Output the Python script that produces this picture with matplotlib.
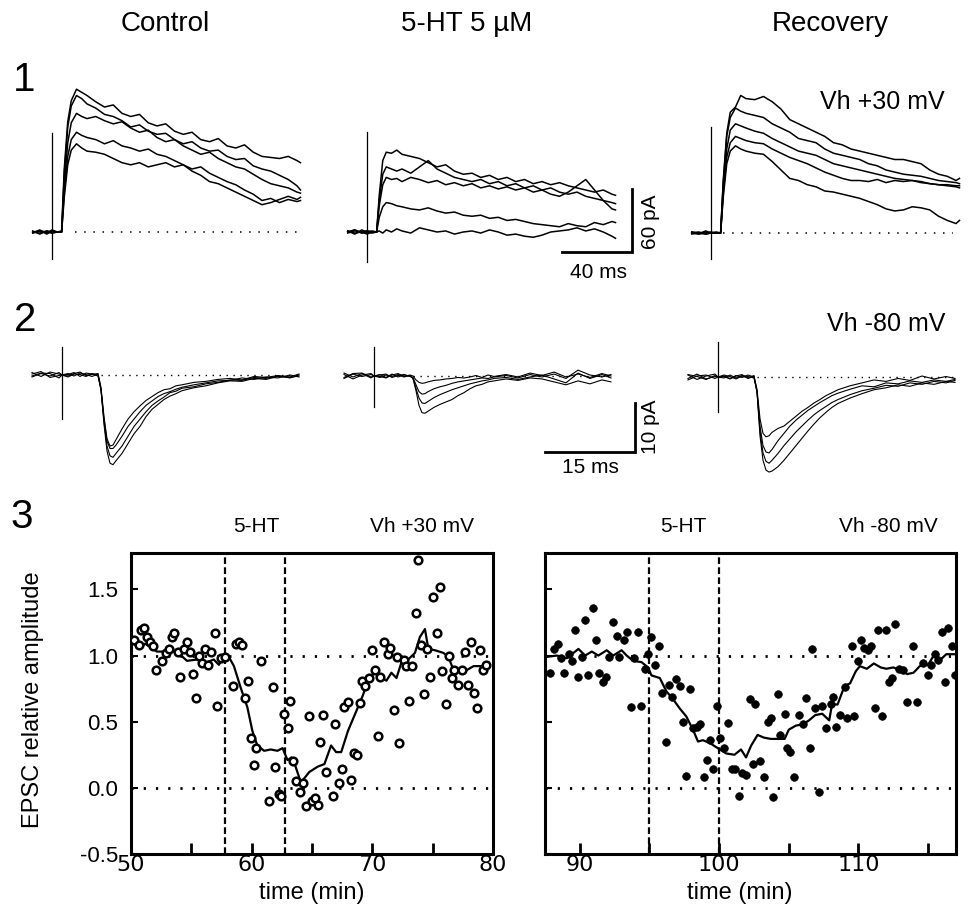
import matplotlib
matplotlib.use("Agg")
import matplotlib.pyplot as plt

plt.rcParams['font.family'] = ['Liberation Sans', 'DejaVu Sans']

# ---------------- data: row 1 (Vh +30 mV), time in ms, current in pA ----------------
T_ROW1 = [-11, -7, -3, 0, 3, 5.5, 7, 9, 11, 14, 17, 20, 25, 30, 35, 40, 45, 50, 55, 60,
          65, 70, 75, 80, 85, 90, 95, 100, 105, 110, 115, 120, 125, 130, 135, 140, 142]

CONTROL_P30 = [
    [-1, 2, -2, 1, 0, 1, 60, 105, 125, 136, 133, 130, 124, 119, 121, 113, 110, 112, 104, 101,
     103, 96, 93, 95, 88, 86, 89, 82, 80, 83, 76, 72, 71, 70, 72, 68, 66],
    [1, -2, 1, -1, 0, 0, 55, 100, 120, 130, 127, 122, 118, 112, 110, 106, 100, 102, 96, 93,
     94, 88, 84, 86, 80, 77, 78, 72, 69, 70, 63, 60, 58, 54, 50, 44, 40],
    [0, 1, -1, 2, 0, 0, 45, 85, 104, 113, 110, 108, 110, 106, 103, 105, 99, 95, 97, 90,
     86, 88, 82, 78, 74, 76, 70, 66, 62, 60, 55, 50, 46, 44, 42, 38, 37],
    [-1, 1, 0, -1, 0, 0, 38, 72, 88, 95, 92, 90, 88, 84, 87, 82, 80, 77, 79, 74,
     72, 68, 64, 60, 62, 56, 52, 48, 45, 40, 36, 30, 32, 28, 31, 29, 30],
    [0, -1, 1, 0, 0, 0, 33, 64, 78, 84, 80, 77, 76, 74, 70, 66, 64, 66, 62, 64,
     66, 62, 64, 58, 54, 48, 46, 42, 38, 34, 30, 26, 28, 31, 34, 31, 33],
]
SEROTONIN_P30 = [
    [1, -2, 2, 0, -1, 0, 35, 68, 76, 75, 78, 74, 72, 70, 66, 62, 64, 58, 55, 56,
     52, 54, 50, 52, 48, 50, 46, 48, 45, 47, 44, 42, 40, 38, 40, 36, 35],
    [-1, 1, 0, 1, 0, 0, 30, 55, 62, 60, 58, 60, 56, 62, 68, 60, 56, 52, 50, 48,
     50, 46, 48, 44, 46, 42, 44, 40, 42, 38, 36, 38, 34, 32, 30, 28, 27],
    [0, 2, -1, 0, 1, 0, 25, 45, 52, 50, 51, 48, 52, 50, 47, 49, 45, 47, 44, 46,
     42, 44, 41, 43, 40, 42, 38, 40, 36, 34, 38, 44, 50, 40, 30, 22, 21],
    [1, -1, 0, -2, 0, 0, 14, 24, 28, 27, 25, 24, 22, 21, 23, 20, 18, 19, 16, 15,
     16, 13, 14, 11, 12, 10, 8, 7, 6, 5, 8, 6, 5, 9, 7, 10, 9],
    [0, 2, -1, 1, 0, 0, 1, -1, 2, 0, 3, 1, -1, 4, 2, 0, 1, -2, 0, 1,
     -1, 2, 0, -3, -2, -4, -5, -3, 0, 1, 2, 4, 1, 3, 0, -4, -6],
]
RECOVERY_P30 = [
    [0, -1, 2, 0, 1, 0, 50, 95, 115, 120, 131, 128, 127, 130, 125, 118, 108, 104, 100, 96,
     92, 86, 84, 80, 78, 76, 74, 72, 70, 70, 68, 66, 60, 56, 54, 50, 52],
    [1, -1, 0, 1, 0, 0, 48, 92, 110, 119, 116, 114, 112, 110, 104, 100, 96, 90, 88, 86,
     80, 76, 74, 72, 70, 66, 64, 60, 58, 56, 55, 54, 52, 50, 49, 48, 47],
    [0, 1, -1, 0, 0, 0, 42, 80, 98, 104, 102, 100, 97, 95, 90, 86, 82, 78, 76, 74,
     70, 66, 64, 62, 60, 58, 56, 54, 52, 51, 50, 49, 47, 46, 45, 44, 43],
    [-1, 0, 1, 0, 0, 0, 38, 72, 86, 92, 90, 88, 86, 85, 80, 76, 72, 69, 66, 62,
     58, 55, 52, 50, 50, 49, 51, 48, 50, 49, 50, 48, 47, 46, 46, 45, 45],
    [1, 0, -1, 0, 0, 0, 34, 66, 78, 83, 80, 78, 76, 75, 68, 60, 52, 50, 46, 44,
     40, 39, 37, 35, 33, 30, 27, 23, 21, 22, 25, 24, 22, 16, 12, 9, 12],
]
ARTIFACT_P30 = [(-26, 94), (-29, 95), (-25, 101)]   # (bottom, top) pA per panel

# ---------------- data: row 2 (Vh -80 mV) ----------------
T_ROW2 = [-5, -3.5, -2, -0.5, 0, 1, 2, 3, 4, 5, 6, 6.5, 7, 7.5, 8, 8.5, 9, 10, 11, 12,
          13, 14, 15, 16, 17, 18, 19, 20, 22, 24, 26, 28, 30, 32, 34, 36, 38, 39.5]

CONTROL_M80 = [
    [0.5, -0.3, 0.6, 0.2, 0, -0.4, 0.2, 0.1, -0.3, 0.3, 0,
     -3, -10, -15.5, -18, -18.3, -17.5, -16, -14, -12, -10.5, -8.5, -7, -6, -5, -4.3, -3.8,
     -3.2, -2.6, -2.2, -1.6, -1.2, -1.3, -0.7, -0.9, -0.3, -0.5, -0.2],
    [-0.4, 0.3, -0.2, 0.5, 0, 0.3, -0.2, 0.4, 0.1, -0.3, 0.2,
     -3, -9.5, -14.5, -16.5, -16.8, -16, -14.5, -12.5, -10.5, -9, -7.5, -6.2, -5.3, -4.5, -3.6, -3.3,
     -2.7, -2.4, -1.8, -1.5, -1.0, -1.1, -0.5, -0.7, -0.2, -0.6, 0],
    [0.2, 0.7, -0.5, -0.1, 0, 0.1, 0.5, -0.3, 0.4, 0.2, -0.2,
     -3, -9, -13.5, -15, -15, -14.3, -12.5, -10.5, -9, -7.5, -6.2, -5.3, -4.4, -3.8, -3.4, -2.9,
     -2.5, -2.0, -1.6, -1.2, -1.1, -0.6, -0.9, -0.4, -0.6, 0, -0.4],
    [-0.2, 0.4, 0.3, -0.6, 0, -0.2, 0.3, 0.6, -0.1, 0.1, 0.3,
     -2.5, -8.5, -13, -14.5, -14.3, -13.2, -11, -9, -7.5, -6.3, -5.2, -4.4, -3.6, -3.0, -2.8, -2.2,
     -2.0, -1.5, -1.3, -0.9, -0.7, -1.0, -0.3, -0.5, -0.1, -0.4, 0.2],
]
SEROTONIN_M80 = [
    [0.6, -0.2, 0.5, -0.4, 0, 0.3, -0.3, 0.4, -0.2, 0.2, 0,
     -0.5, -3, -6, -7.5, -7.6, -7.2, -6.4, -5.8, -5.3, -4.8, -4.0, -3.4, -2.6, -2.0, -1.7, -1.2,
     -1.0, -0.6, -0.9, -0.4, -0.6, -1.2, -1.8, -1.0, -1.6, -0.8, -1.2],
    [-0.5, 0.4, -0.1, 0.3, 0, -0.3, 0.2, -0.1, 0.3, -0.2, 0.1,
     -0.5, -2.5, -4.5, -5.5, -5.6, -5.2, -4.4, -3.8, -3.3, -2.8, -2.4, -2.0, -1.6, -1.3, -1.0, -0.8,
     -0.5, -0.3, -0.7, -0.2, 0.2, -0.6, -1.4, 0.6, -0.5, 0.3, -0.4],
    [0.3, -0.6, 0.2, 0.5, 0, 0.2, 0.4, -0.3, 0.1, 0.3, -0.1,
     -0.3, -1.8, -3.2, -3.7, -3.6, -3.2, -2.6, -2.2, -1.9, -1.5, -1.2, -1.0, -0.8, -0.6, -0.4, -0.5,
     -0.2, 0.1, -0.4, 0.3, -0.2, 0.4, -0.5, 1.2, 0.2, -0.2, 0.3],
    [-0.3, 0.5, 0.6, -0.2, 0, -0.1, -0.4, 0.2, 0.5, -0.1, 0.2,
     0, -0.8, -1.3, -1.5, -1.4, -1.2, -0.9, -0.8, -0.6, -0.5, -0.3, -0.4, -0.2, 0.1, -0.3, 0.2,
     -0.1, 0.3, -0.2, 0.6, 0.1, 0.8, -0.2, 0.4, -0.3, 0.5, 0],
]
RECOVERY_M80 = [
    [0.4, -0.5, 0.2, 0.6, 0, 0.2, -0.3, 0.3, -0.1, 0.4, 0,
     -3, -12, -17, -19, -19.4, -19.2, -18.3, -17, -15.5, -14, -12.5, -11, -9.6, -8.3, -7.2, -6.2,
     -5.4, -4.3, -3.4, -2.6, -2.2, -1.6, -1.9, -1.2, -1.5, -0.9, -1.1],
    [-0.3, 0.6, -0.4, 0.1, 0, -0.2, 0.4, -0.2, 0.3, 0.1, -0.2,
     -3, -11, -15.5, -17.2, -17.6, -17, -15.6, -14, -12.6, -11.2, -10, -8.8, -7.7, -6.8, -6, -5.2,
     -4.6, -3.6, -2.8, -2.3, -1.7, -1.9, -1.2, -1.5, -0.9, -1.2, -0.7],
    [0.5, 0.1, -0.5, 0.3, 0, 0.4, 0.1, -0.4, 0.2, -0.2, 0.3,
     -3, -10, -14, -15.3, -15.5, -14.8, -13, -11.5, -10, -8.8, -7.8, -6.8, -6, -5.2, -4.5, -3.8,
     -3.3, -2.5, -1.8, -2.0, -1.2, -1.4, -0.8, -1.1, -0.6, -0.9, -0.5],
    [-0.6, 0.2, 0.4, -0.3, 0, 0.1, -0.4, 0.2, 0.5, -0.3, 0.1,
     -2.5, -8.5, -11.5, -12.2, -12, -11.3, -10.5, -10, -9, -8, -7, -6.2, -5.3, -4.6, -3.8, -3.2,
     -2.6, -1.8, -1.2, -0.6, -0.9, -0.3, -0.7, 0.2, -0.4, 0.1, -0.3],
]
ARTIFACT_M80 = [(-9.0, 5.7), (-6.3, 5.9), (-7.1, 7.1)]

# ---------------- data: row 3 (relative EPSC amplitude vs time) ----------------
LEFT_T = [50.28, 50.69, 50.81, 51.08, 51.31, 51.58, 51.86, 52.08, 52.56, 52.92,
          53.11, 53.39, 53.58, 53.86, 54.08, 54.36, 54.64, 54.86, 55.11, 55.36,
          55.61, 55.89, 56.17, 56.36, 56.67, 56.92, 57.14, 57.48, 57.83, 58.44,
          58.67, 58.94, 59.23, 59.42, 59.69, 59.92, 60.19, 60.39, 60.75, 61.44,
          61.73, 61.94, 62.27, 62.42, 62.72, 62.97, 63.15, 63.44, 63.7, 64.0,
          64.22, 64.47, 64.78, 64.98, 65.25, 65.48, 65.67, 65.94, 66.2, 66.72,
          66.92, 67.22, 67.47, 67.67, 67.98, 68.22, 68.5, 68.73, 68.94, 69.14,
          69.42, 69.69, 69.98, 70.25, 70.48, 70.67, 71.0, 71.28, 71.5, 71.78,
          72.06, 72.25, 72.61, 72.81, 73.03, 73.31, 73.58, 73.81, 74.0, 74.28,
          74.56, 74.78, 75.06, 75.33, 75.61, 75.81, 76.08, 76.36, 76.58, 76.78,
          77.14, 77.42, 77.64, 77.89, 78.17, 78.39, 78.67, 78.94, 79.17, 79.42]
LEFT_V = [1.12, 1.08, 1.19, 1.21, 1.14, 1.10, 1.07, 0.89, 0.96, 1.02,
          1.05, 1.14, 1.17, 1.03, 0.84, 1.05, 1.10, 1.03, 0.86, 0.68,
          1.00, 0.94, 1.05, 0.93, 1.03, 1.17, 0.62, 0.98, 0.99, 0.77,
          1.09, 1.10, 1.08, 0.68, 0.81, 0.38, 0.17, 0.30, 0.96, -0.10,
          0.76, 0.16, -0.05, -0.06, 0.56, 0.45, 0.66, 0.20, 0.05, -0.03,
          0.04, -0.14, 0.54, -0.10, -0.08, -0.13, 0.35, 0.55, 0.12, -0.06,
          0.48, 0.04, 0.14, 0.61, 0.65, 0.06, 0.26, 0.25, 0.64, 0.81,
          0.77, 0.83, 1.04, 0.89, 0.39, 0.84, 1.10, 1.01, 1.06, 0.59,
          0.99, 0.34, 0.97, 0.92, 0.66, 0.92, 1.32, 1.72, 1.08, 0.71,
          1.05, 0.84, 1.44, 1.17, 1.52, 0.88, 0.63, 1.00, 0.83, 0.89,
          0.78, 0.89, 1.03, 0.78, 1.10, 0.72, 0.60, 1.04, 0.89, 0.93]
LEFT_AVG_T = [50.06, 50.75, 51.17, 52.14, 52.97, 53.8, 54.64, 55.47, 56.03, 56.86,
              57.28, 57.69, 58.11, 58.53, 59.08, 59.64, 60.06, 60.47, 61.03, 61.58,
              62.14, 62.56, 62.97, 63.3, 63.53, 64.08, 64.78, 65.47, 66.03, 66.58,
              67.0, 67.42, 67.98, 68.67, 69.22, 69.64, 70.33, 70.75, 71.17, 71.58,
              72.0, 72.42, 72.97, 73.53, 73.94, 74.36, 74.64, 75.19, 75.89, 76.31,
              76.72, 77.0, 77.42, 77.83, 78.39, 79.08, 79.64]
LEFT_AVG_V = [1.10, 1.05, 1.09, 1.03, 1.03, 1.03, 0.96, 0.97, 0.94, 0.97,
              0.93, 0.99, 0.99, 0.92, 0.76, 0.61, 0.43, 0.32, 0.28, 0.29,
              0.28, 0.30, 0.21, 0.23, 0.19, 0.04, 0.12, 0.16, 0.18, 0.32,
              0.27, 0.27, 0.43, 0.58, 0.70, 0.81, 0.89, 0.83, 0.81, 0.87,
              0.83, 0.95, 0.97, 1.02, 1.14, 1.20, 1.05, 1.04, 1.02, 0.99,
              0.89, 0.90, 0.87, 0.89, 0.92, 0.92, 0.95]

RIGHT_T = [87.88, 88.12, 88.41, 88.64, 88.88, 89.19, 89.43, 89.66, 89.90, 90.14,
           90.38, 90.62, 90.93, 91.17, 91.40, 91.64, 91.88, 92.12, 92.41, 92.64,
           92.83, 93.17, 93.40, 93.64, 93.88, 94.19, 94.40, 94.67, 94.90, 95.14,
           95.43, 95.69, 95.93, 96.17, 96.40, 96.64, 96.88, 97.17, 97.40, 97.64,
           97.88, 98.12, 98.41, 98.64, 98.88, 99.12, 99.36, 99.59, 99.86, 100.07,
           100.38, 100.62, 100.90, 101.17, 101.40, 101.64, 101.9, 102.2, 102.4, 102.6,
           102.9, 103.2, 103.5, 103.7, 103.9, 104.2, 104.4, 104.7, 104.9, 105.1,
           105.4, 105.7, 106.0, 106.2, 106.5, 106.7, 106.9, 107.2, 107.4, 107.7,
           108.0, 108.2, 108.4, 108.7, 109.0, 109.2, 109.5, 109.7, 110.0, 110.2,
           110.4, 110.7, 110.9, 111.2, 111.4, 111.7, 112.0, 112.2, 112.4, 112.6,
           112.9, 113.2, 113.5, 113.9, 114.2, 114.6, 115.0, 115.2, 115.5, 115.7,
           116.0, 116.2, 116.4, 116.7, 116.9]
RIGHT_V = [0.87, 1.05, 1.09, 0.98, 0.87, 1.01, 0.96, 1.19, 0.84, 0.99,
           1.27, 0.85, 1.36, 1.12, 0.87, 0.80, 0.84, 0.99, 1.25, 1.15,
           0.99, 1.12, 1.18, 0.61, 0.98, 1.18, 0.62, 0.90, 1.01, 1.14,
           0.93, 1.07, 0.72, 0.35, 0.78, 0.69, 0.82, 0.77, 0.50, 0.09,
           0.75, 0.45, 0.46, 0.48, 0.08, 0.21, 0.36, 0.14, 0.62, 0.38,
           0.30, 0.49, 0.14, 0.14, -0.06, 0.11, 0.10, 0.67, 0.18, 0.63,
           0.20, 0.08, 0.50, 0.53, -0.07, 0.71, 0.40, 0.56, 0.30, 0.27,
           0.08, 0.55, 0.48, 0.68, 0.30, 1.05, 0.60, -0.03, 0.62, 0.45,
           0.63, 0.69, 0.46, 0.55, 0.76, 0.53, 1.07, 0.54, 0.96, 1.12,
           1.06, 1.04, 1.07, 0.60, 1.19, 0.54, 1.19, 0.80, 0.83, 1.24,
           0.90, 0.89, 0.65, 1.07, 0.65, 0.94, 0.85, 0.93, 1.01, 0.97,
           1.18, 0.80, 1.21, 1.07, 0.85]
RIGHT_AVG_T = [87.64, 88.35, 89.07, 89.9, 90.38, 90.86, 91.33, 91.93, 92.4, 93.0,
               93.36, 93.83, 94.43, 94.9, 95.14, 95.74, 96.21, 96.69, 97.17, 97.64,
               98.12, 98.48, 98.83, 99.31, 99.9, 100.5, 101.1, 101.57, 101.93, 102.3,
               102.76, 103.2, 103.7, 104.7, 105.0, 105.5, 106.0, 106.45, 106.9, 107.4,
               107.9, 108.1, 108.5, 109.0, 109.4, 109.8, 110.1, 110.6, 111.1, 111.6,
               112.0, 112.5, 113.0, 113.5, 113.95, 114.4, 115.0, 115.4, 115.9, 116.3,
               117.0]
RIGHT_AVG_V = [0.99, 1.00, 0.98, 1.05, 1.00, 1.03, 1.00, 1.04, 1.00, 1.04,
               1.00, 0.96, 0.95, 0.91, 0.85, 0.83, 0.73, 0.67, 0.60, 0.54,
               0.44, 0.35, 0.36, 0.34, 0.30, 0.26, 0.25, 0.29, 0.23, 0.32,
               0.40, 0.38, 0.37, 0.37, 0.44, 0.47, 0.48, 0.51, 0.55, 0.56,
               0.51, 0.63, 0.63, 0.77, 0.79, 0.88, 0.92, 0.90, 0.94, 0.91,
               0.90, 0.91, 0.89, 0.86, 0.87, 0.92, 0.93, 1.00, 0.97, 1.01,
               1.01]
LEFT_DRUG = [57.8, 62.8]
RIGHT_DRUG = [95.0, 100.0]
LEFT_XTICKS = [50, 60, 70, 80]
LEFT_XMINOR = [55, 65, 75]
RIGHT_XTICKS = [90, 100, 110]
RIGHT_XMINOR = [95, 105, 115]
YTICKS = [-0.5, 0.0, 0.5, 1.0, 1.5]
YTICKLABELS = ['-0.5', '0.0', '0.5', '1.0', '1.5']

COLUMN_TITLES = ['Control', '5-HT 5 \u00b5M', 'Recovery']

# ---------------- figure ----------------
W, H = 969, 910
fig = plt.figure(figsize=(W / 100, H / 100), dpi=100)


def px_axes(x0, y0, x1, y1):
    return fig.add_axes([x0 / W, 1 - y1 / H, (x1 - x0) / W, (y1 - y0) / H])


def trace_axes(art_x, base_y, sx, sy, xlim, ylim):
    ax = px_axes(art_x + xlim[0] * sx, base_y - ylim[1] * sy,
                 art_x + xlim[1] * sx, base_y - ylim[0] * sy)
    ax.set_xlim(xlim)
    ax.set_ylim(ylim)
    ax.axis('off')
    return ax


def ftext(x, y, s, **kw):
    fig.text(x / W, 1 - y / H, s, **kw)


# row 1
r1_specs = [(52, 232, (-14, 146)), (367, 232, (-14, 165)), (711, 233, (-14, 146))]
r1_data = [CONTROL_P30, SEROTONIN_P30, RECOVERY_P30]
r1_axes = []
for (ax_x, by, xl), traces, art in zip(r1_specs, r1_data, ARTIFACT_P30):
    ax = trace_axes(ax_x, by, 1.75, 1.05, xl, (-32, 150))
    for tr in traces:
        ax.plot(T_ROW1, tr, color='black', lw=1.1)
    ax.plot([0, 0], list(art), color='black', lw=0.9)
    r1_axes.append(ax)
r1_axes[0].plot([13, 140], [0, 0], color='black', lw=1.1, ls=(0, (1, 5)))
r1_axes[2].plot([7, 138], [0, 0], color='black', lw=1.1, ls=(0, (1, 5)))
# 40 ms / 60 pA scale bar
sb = r1_axes[1]
sb.plot([111.4, 151.4, 151.4], [-19, -19, 41], color='black', lw=2.0,
        solid_joinstyle='miter', clip_on=False)

# row 2
r2_specs = [(62, 375, (-6, 41)), (374, 376, (-6, 47)), (718, 377, (-6, 41))]
r2_data = [CONTROL_M80, SEROTONIN_M80, RECOVERY_M80]
r2_axes = []
for (ax_x, by, xl), traces, art in zip(r2_specs, r2_data, ARTIFACT_M80):
    ax = trace_axes(ax_x, by, 6.0, 4.9, xl, (-22, 9))
    for tr in traces:
        ax.plot(T_ROW2, tr, color='black', lw=0.8)
    ax.plot([0, 0], list(art), color='black', lw=0.9)
    ax.plot([6.5, 39.5], [0, 0], color='black', lw=1.0, ls=(0, (1, 4)), zorder=0)
    r2_axes.append(ax)
sb2 = r2_axes[1]
sb2.plot([28.5, 43.5, 43.5], [-15.5, -15.5, -5.5], color='black', lw=2.0,
         solid_joinstyle='miter', clip_on=False)

# row 3
def style_scatter_axes(ax, xlim, major, minor, labels):
    ax.set_xlim(xlim)
    ax.set_ylim(-0.5, 1.775)
    for s in ax.spines.values():
        s.set_linewidth(2.2)
    ax.set_xticks(major)
    ax.set_xticks(minor, minor=True)
    ax.set_xticklabels([str(v) for v in major], fontsize=16, family='DejaVu Sans')
    ax.set_yticks(YTICKS)
    if labels:
        ax.set_yticklabels(YTICKLABELS, fontsize=16)
    else:
        ax.set_yticklabels([])
    ax.tick_params(axis='x', which='both', direction='in', length=8, width=2, pad=1)
    ax.tick_params(axis='y', direction='in', length=5, width=1.5, pad=9)
    for yv in (0.0, 1.0):
        ax.axhline(yv, color='black', lw=2.0, ls=(0, (0.8, 3.6)), zorder=1)


axL = px_axes(131, 553, 493, 854)
style_scatter_axes(axL, (50, 80), LEFT_XTICKS, LEFT_XMINOR, True)
for xv in LEFT_DRUG:
    axL.axvline(xv, color='black', lw=1.6, ls=(0, (3, 1.5)), zorder=1)
axL.plot(LEFT_AVG_T, LEFT_AVG_V, color='black', lw=1.6, zorder=3)
axL.plot(LEFT_T, LEFT_V, ls='none', marker='o', ms=5.5, mfc='white', mec='black',
         mew=1.8, zorder=4)

axR = px_axes(545, 553, 956, 854)
style_scatter_axes(axR, (87.5, 117.0), RIGHT_XTICKS, RIGHT_XMINOR, False)
for xv in RIGHT_DRUG:
    axR.axvline(xv, color='black', lw=1.6, ls=(0, (3, 1.5)), zorder=1)
axR.plot(RIGHT_AVG_T, RIGHT_AVG_V, color='black', lw=1.6, zorder=3)
axR.plot(RIGHT_T, RIGHT_V, ls='none', marker='o', ms=5.5, mfc='black', mec='black',
         mew=0.5, zorder=4)

# ---------------- text ----------------
ftext(165, 24, COLUMN_TITLES[0], fontsize=20, ha='center', va='center')
ftext(467, 24, COLUMN_TITLES[1], fontsize=20, ha='center', va='center')
ftext(830, 24, COLUMN_TITLES[2], fontsize=20, ha='center', va='center')
ftext(24, 80, '1', fontsize=29, ha='center', va='center')
ftext(25, 320, '2', fontsize=29, ha='center', va='center')
ftext(22, 517, '3', fontsize=29, ha='center', va='center')
ftext(945, 102, 'Vh +30 mV', fontsize=18, ha='right', va='center')
ftext(945, 324, 'Vh -80 mV', fontsize=18, ha='right', va='center')
ftext(598, 273, '40 ms', fontsize=15, ha='center', va='center')
ftext(650, 222, '60 pA', fontsize=15, ha='center', va='center', rotation=90)
ftext(590, 468, '15 ms', fontsize=15, ha='center', va='center')
ftext(651, 427, '10 pA', fontsize=15, ha='center', va='center', rotation=90)
ftext(256, 527, '5-HT', fontsize=15, ha='center', va='center')
ftext(422, 527, 'Vh +30 mV', fontsize=15, ha='center', va='center')
ftext(683, 527, '5-HT', fontsize=15, ha='center', va='center')
ftext(888, 527, 'Vh -80 mV', fontsize=15, ha='center', va='center')
ftext(33, 700, 'EPSC relative amplitude', fontsize=17, ha='center', va='center',
      rotation=90)
ftext(312, 893, 'time (min)', fontsize=17, ha='center', va='center')
ftext(740, 893, 'time (min)', fontsize=17, ha='center', va='center')

fig.savefig('out.png', dpi=100)
